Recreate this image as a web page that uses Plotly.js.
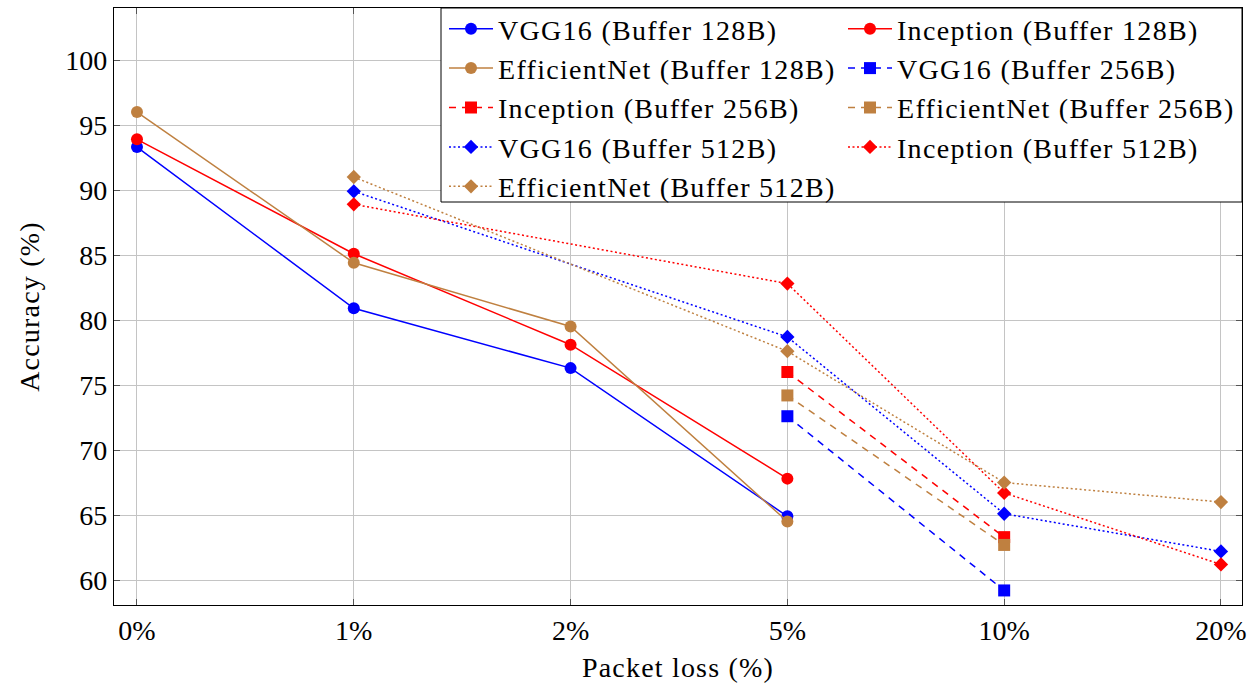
<!DOCTYPE html>
<html>
<head>
<meta charset="utf-8">
<script src="https://cdn.plot.ly/plotly-3.0.1.min.js"></script>
<style>
html,body{margin:0;padding:0;background:#fff;}
#chart{width:1256px;height:690px;}
#chart text.legendtext{letter-spacing:1.3px;}
#chart text.xtitle, #chart text.ytitle{letter-spacing:1.2px;}
</style>
</head>
<body>
<div id="chart"></div>
<script>
const categories = ["0%", "1%", "2%", "5%", "10%", "20%"];

const vgg128 = [93.3, 80.9, 76.3, 64.9, null, null];
const inception128 = [93.9, 85.1, 78.1, 67.8, null, null];
const efficient128 = [96.0, 84.4, 79.5, 64.5, null, null];

const vgg256 = [null, null, null, 72.6, 59.2, null];
const inception256 = [null, null, null, 76.0, 63.3, null];
const efficient256 = [null, null, null, 74.2, 62.7, null];

const vgg512 = [null, 89.9, null, 78.7, 65.1, 62.2];
const inception512 = [null, 88.9, null, 82.8, 66.7, 61.2];
const efficient512 = [null, 91.0, null, 77.6, 67.5, 66.0];

const seriesNames = [
  "VGG16 (Buffer 128B)", "Inception (Buffer 128B)", "EfficientNet (Buffer 128B)",
  "VGG16 (Buffer 256B)", "Inception (Buffer 256B)", "EfficientNet (Buffer 256B)",
  "VGG16 (Buffer 512B)", "Inception (Buffer 512B)", "EfficientNet (Buffer 512B)"
];
const seriesValues = [vgg128, inception128, efficient128, vgg256, inception256, efficient256, vgg512, inception512, efficient512];

const BLUE = "#0000ff", RED = "#ff0000", BROWN = "#bf8040";
const colors = [BLUE, RED, BROWN, BLUE, RED, BROWN, BLUE, RED, BROWN];
const symbols = ["circle","circle","circle","square","square","square","diamond","diamond","diamond"];
const sizes = [12,12,12,12,12,12,11,11,11];
const dashes = ["solid","solid","solid","7px,6px","7px,6px","7px,6px","2px,2.5px","2px,2.5px","2px,2.5px"];

const FONT = "Liberation Serif";

const traces = seriesValues.map((vals, i) => ({
  type: "scatter",
  mode: "lines+markers",
  name: seriesNames[i],
  x: categories,
  y: vals,
  connectgaps: true,
  line: {color: colors[i], width: 1.5, dash: dashes[i]},
  marker: {color: colors[i], symbol: symbols[i], size: sizes[i], line: {width: 0}}
}));

const layout = {
  width: 1256,
  height: 690,
  margin: {l: 114, r: 14, t: 8, b: 85, autoexpand: false},
  paper_bgcolor: "#fff",
  plot_bgcolor: "#fff",
  font: {family: FONT, size: 28, color: "#000"},
  showlegend: true,
  legend: {
    orientation: "h",
    x: 1, xanchor: "right",
    y: 1 + 4 / 597, yanchor: "top",
    bgcolor: "rgba(0,0,0,0)",
    borderwidth: 0,
    font: {family: FONT, size: 28, color: "#000"},
    itemwidth: 44,
    entrywidth: 340,
    entrywidthmode: "pixels",
    traceorder: "normal"
  },
  shapes: [{
    type: "rect", xref: "paper", yref: "paper",
    x0: (441 - 114) / 1128, x1: 1, y0: 1 - (202 - 8) / 597, y1: 1,
    line: {color: "#000", width: 1}, fillcolor: "#fff", layer: "above"
  }],
  xaxis: {
    type: "category",
    categoryorder: "array",
    categoryarray: categories,
    range: [-0.106, 5.097],
    showgrid: true, gridcolor: "#c4c4c4", gridwidth: 1,
    showline: true, linecolor: "#000", linewidth: 1.2, mirror: "allticks",
    ticks: "inside", ticklen: 6, tickcolor: "#555", tickwidth: 1,
    tickfont: {family: FONT, size: 28},
    zeroline: false,
    title: {text: "Packet loss (%)", font: {family: FONT, size: 28}, standoff: 12}
  },
  yaxis: {
    range: [58.08, 104],
    tickvals: [60, 65, 70, 75, 80, 85, 90, 95, 100],
    showgrid: true, gridcolor: "#c4c4c4", gridwidth: 1,
    showline: true, linecolor: "#000", linewidth: 1.2, mirror: "allticks",
    ticks: "inside", ticklen: 6, tickcolor: "#555", tickwidth: 1,
    tickfont: {family: FONT, size: 28},
    zeroline: false,
    title: {text: "Accuracy (%)", font: {family: FONT, size: 28}, standoff: 17}
  }
};

Plotly.newPlot("chart", traces, layout, {displayModeBar: false, staticPlot: true});
</script>
</body>
</html>
